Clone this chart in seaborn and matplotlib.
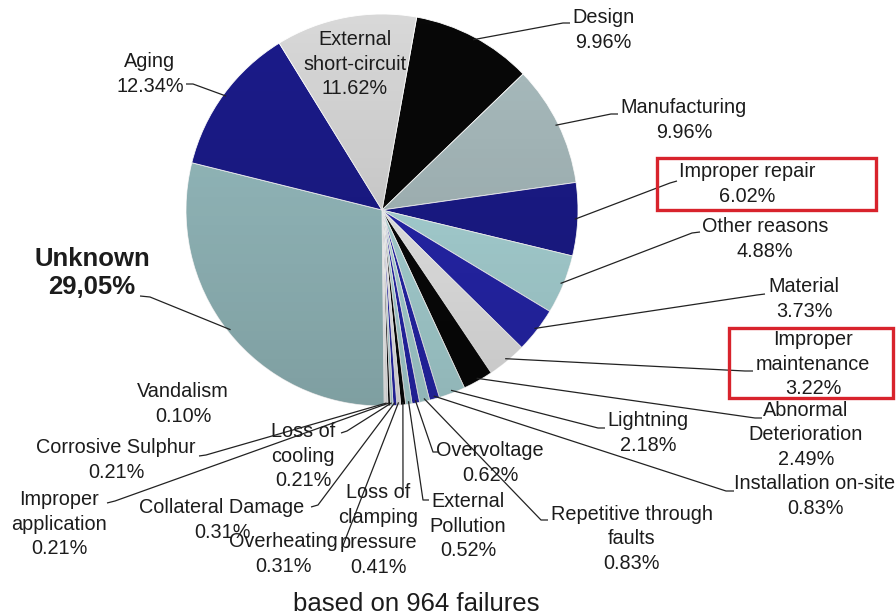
import numpy as np
import matplotlib
matplotlib.use("Agg")
import matplotlib.pyplot as plt
from matplotlib.patches import Rectangle, Circle
import seaborn as sns

# Failure causes (clockwise from the top) and their share of all failures, in %
causes = ["Design", "Manufacturing", "Improper repair", "Other reasons", "Material",
          "Improper\nmaintenance", "Abnormal\nDeterioration", "Lightning",
          "Installation on-site", "Repetitive through\nfaults", "Overvoltage",
          "External\nPollution", "Loss of\nclamping\npressure", "Overheating",
          "Collateral Damage", "Loss of\ncooling", "Improper\napplication",
          "Corrosive Sulphur", "Vandalism", "Unknown", "Aging",
          "External\nshort-circuit"]
shares = [9.96, 9.96, 6.02, 4.88, 3.73, 3.22, 2.49, 2.18, 0.83, 0.83, 0.62,
          0.52, 0.41, 0.31, 0.31, 0.21, 0.21, 0.21, 0.10, 29.05, 12.34, 11.62]
n_failures = 964
highlighted = ["Improper repair", "Improper\nmaintenance"]

# Slice colours
BLACK, GREYTEAL, NAVY, PALE, BLUE, LIGHT, TEAL, SILVER = (
    "#080808", "#a9bcbe", "#1b1b8a", "#acd8da", "#2626ad", "#ececec", "#97bdc0", "#d8d8d8")
slice_colors = [BLACK, GREYTEAL, NAVY, PALE, BLUE, LIGHT, BLACK, PALE,
                BLUE, PALE, BLUE, PALE, BLACK, LIGHT, BLUE, PALE, BLACK,
                LIGHT, SILVER, TEAL, NAVY, SILVER]

# Label placement in figure pixels: text centre, leader elbow, leader tip
layout = {
    "Design": ((603, 30), (563, 23), (570, 23)),
    "Manufacturing": ((684, 120), (611, 114), (618, 114)),
    "Improper repair": ((747, 184), (670, 183), (677, 181)),
    "Other reasons": ((765, 239), (692, 233), (700, 232)),
    "Material": ((804, 299), (757, 295), (765, 294)),
    "Improper\nmaintenance": ((813, 364), (745, 371), (753, 371)),
    "Abnormal\nDeterioration": ((806, 435), (755, 418), (762, 418)),
    "Lightning": ((648, 433), (598, 428), (605, 428)),
    "Installation on-site": ((815, 496), (726, 491), (734, 491)),
    "Repetitive through\nfaults": ((632, 539), (541, 520), (548, 520)),
    "Overvoltage": ((490, 463), (433, 452), (439, 452)),
    "External\nPollution": ((468, 526), (423, 500), (429, 500)),
    "Loss of\nclamping\npressure": ((378, 530), (403, 490), (403, 490)),
    "Overheating": ((283, 554), (342, 548), (342, 548)),
    "Collateral Damage": ((222, 520), (318, 505), (311, 507)),
    "Loss of\ncooling": ((303, 456), (347, 431), (341, 433)),
    "Improper\napplication": ((59, 524), (115, 501), (107, 503)),
    "Corrosive Sulphur": ((116, 460), (206, 455), (199, 456)),
    "Vandalism": ((183, 404), None, None),
    "Unknown": ((92, 273), (150, 297), (140, 296)),
    "Aging": ((150, 74), (193, 84), (186, 84)),
    "External\nshort-circuit": ((355, 64), None, None),
}

sns.set_theme(style="white")
plt.rcParams["font.family"] = ["Liberation Sans", "DejaVu Sans"]

W, H = 896, 616
fig = plt.figure(figsize=(W / 100, H / 100), dpi=100)
ax = fig.add_axes([0, 0, 1, 1])

CX, CY, R = 382, 210, 196
START = 10.2  # first slice begins this many degrees clockwise of 12 o'clock

# y axis points down, so counter-clockwise in data space is clockwise on screen
wedges, _ = ax.pie(shares, colors=slice_colors, startangle=-(90 - START),
                   counterclock=True, center=(CX, CY), radius=R,
                   wedgeprops=dict(edgecolor="white", linewidth=0.6))

# soft top-to-bottom shading over the pie
ramp = np.linspace(0, 1, 256)[:, None]
shade = np.zeros((256, 1, 4))
shade[..., 3] = 0.16 * ramp
im = ax.imshow(shade, extent=(CX - R, CX + R, CY + R, CY - R), aspect="auto",
               interpolation="bilinear", zorder=3)
im.set_clip_path(Circle((CX, CY), R, transform=ax.transData))

ax.set_xlim(0, W)
ax.set_ylim(H, 0)
ax.set_aspect("equal")
ax.axis("off")

TXT = "#1c1c1c"
for cause, share, w in zip(causes, shares, wedges):
    (tx, ty), elbow, tip = layout[cause]
    pct = f"{share:.2f}%"
    if cause == "Unknown":
        ax.text(tx, ty, f"{cause}\n{pct.replace('.', ',')}", ha="center", va="center",
                fontsize=18.5, fontweight="bold", color=TXT, linespacing=1.16, zorder=6)
    else:
        ax.text(tx, ty, f"{cause}\n{pct}", ha="center", va="center", fontsize=14.3,
                color=TXT, linespacing=1.38, zorder=6)
    if elbow is not None:
        mid = np.deg2rad((w.theta1 + w.theta2) / 2)
        sx, sy = CX + 0.985 * R * np.cos(mid), CY + 0.985 * R * np.sin(mid)
        ax.plot([sx, elbow[0], tip[0]], [sy, elbow[1], tip[1]], color="#222222",
                lw=0.9, zorder=5, solid_capstyle="butt")

# red frames around the highlighted causes
boxes = {"Improper repair": (657, 158, 219, 52),
         "Improper\nmaintenance": (729, 328, 164, 70)}
for cause in highlighted:
    x0, y0, bw, bh = boxes[cause]
    ax.add_patch(Rectangle((x0, y0), bw, bh, fill=False, edgecolor="#d8232c",
                           lw=2.4, zorder=7))

ax.text(416, 604, f"based on {n_failures} failures", ha="center", va="center",
        fontsize=18.5, color=TXT)

fig.savefig("out.png", dpi=100)
